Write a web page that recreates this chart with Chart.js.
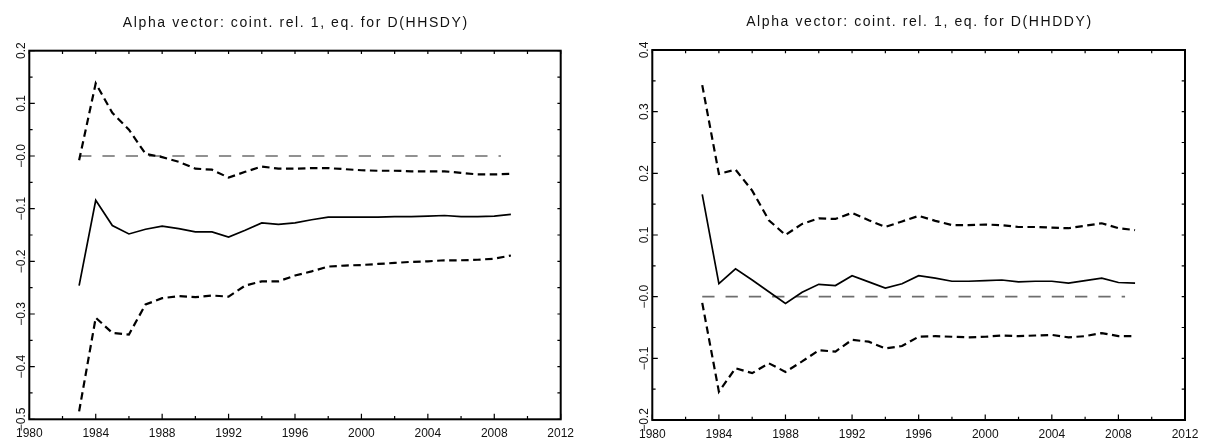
<!DOCTYPE html>
<html><head><meta charset="utf-8">
<script src="https://cdn.jsdelivr.net/npm/chart.js@4.4.1/dist/chart.umd.min.js"></script>
<style>
html,body{margin:0;padding:0;background:#fff;width:1210px;height:441px;overflow:hidden}
canvas{position:absolute;top:0}
#c1{left:0}
#c2{left:605px}
</style></head><body>
<canvas id="c1" width="605" height="441"></canvas>
<canvas id="c2" width="605" height="441"></canvas>
<script>
// ---- data ----
const years = [1983,1984,1985,1986,1987,1988,1989,1990,1991,1992,1993,1994,1995,1996,1997,1998,1999,2000,2001,2002,2003,2004,2005,2006,2007,2008,2009];

const leftTitle = "Alpha vector: coint. rel. 1, eq. for D(HHSDY)";
const leftMid   = [-0.246,-0.084,-0.132,-0.148,-0.139,-0.133,-0.138,-0.144,-0.144,-0.154,-0.141,-0.127,-0.130,-0.127,-0.121,-0.116,-0.116,-0.116,-0.116,-0.115,-0.115,-0.114,-0.113,-0.115,-0.115,-0.114,-0.111];
const leftUpper = [-0.008,0.138,0.082,0.050,0.004,-0.002,-0.011,-0.024,-0.026,-0.041,-0.030,-0.020,-0.024,-0.024,-0.023,-0.023,-0.025,-0.027,-0.028,-0.028,-0.029,-0.029,-0.029,-0.032,-0.035,-0.035,-0.034];
const leftLower = [-0.485,-0.307,-0.336,-0.339,-0.282,-0.270,-0.266,-0.268,-0.265,-0.267,-0.246,-0.238,-0.238,-0.227,-0.219,-0.210,-0.208,-0.207,-0.205,-0.203,-0.201,-0.200,-0.198,-0.198,-0.197,-0.195,-0.189];

const rightTitle = "Alpha vector: coint. rel. 1, eq. for D(HHDDY)";
const rightMid   = [0.166,0.021,0.045,0.027,0.008,-0.011,0.007,0.020,0.018,0.034,0.024,0.014,0.021,0.034,0.030,0.025,0.025,0.026,0.027,0.024,0.025,0.025,0.022,0.026,0.030,0.023,0.022];
const rightUpper = [0.343,0.199,0.206,0.172,0.124,0.100,0.118,0.127,0.126,0.136,0.124,0.113,0.122,0.131,0.123,0.116,0.116,0.117,0.116,0.113,0.113,0.112,0.111,0.115,0.119,0.111,0.108];
const rightLower = [-0.010,-0.154,-0.116,-0.124,-0.108,-0.122,-0.105,-0.087,-0.089,-0.070,-0.073,-0.084,-0.080,-0.065,-0.064,-0.065,-0.066,-0.065,-0.063,-0.064,-0.063,-0.062,-0.066,-0.064,-0.059,-0.064,-0.064];

const zeroLineYears = [1983, 2008.4];
const zeroLineValues = [0, 0];

const xMin = 1980, xMax = 2012;
const xTickYears  = [1980,1982,1984,1986,1988,1990,1992,1994,1996,1998,2000,2002,2004,2006,2008,2010,2012];
const xLabelYears = [1980,1984,1988,1992,1996,2000,2004,2008,2012];
const xLabelText  = ["1980","1984","1988","1992","1996","2000","2004","2008","2012"];

const leftYMin = -0.5, leftYMax = 0.2;
const leftYTicks = [0.2,0.15,0.1,0.05,0,-0.05,-0.1,-0.15,-0.2,-0.25,-0.3,-0.35,-0.4,-0.45,-0.5];
const leftYLabelValues = [0.2,0.1,0,-0.1,-0.2,-0.3,-0.4,-0.5];
const leftYLabelText = ["0.2","0.1","\u22120.0","\u22120.1","\u22120.2","\u22120.3","\u22120.4","\u22120.5"];

const rightYMin = -0.2, rightYMax = 0.4;
const rightYTicks = [0.4,0.35,0.3,0.25,0.2,0.15,0.1,0.05,0,-0.05,-0.1,-0.15,-0.2];
const rightYLabelValues = [0.4,0.3,0.2,0.1,0,-0.1,-0.2];
const rightYLabelText = ["0.4","0.3","0.2","0.1","\u22120.0","\u22120.1","\u22120.2"];

// ---- helpers ----
const pts = (xs, ys) => xs.map((x, i) => ({x: x, y: ys[i]}));

const framePlugin = {
  id: 'frame',
  afterDraw(chart, args, o) {
    const ctx = chart.ctx, a = chart.chartArea;
    const xs = chart.scales.x, ys = chart.scales.y;
    ctx.save();
    // inward tick marks
    ctx.strokeStyle = '#000';
    ctx.lineWidth = 1.2;
    ctx.beginPath();
    xTickYears.forEach(v => {
      const px = xs.getPixelForValue(v);
      const major = xLabelYears.includes(v);
      ctx.moveTo(px, a.bottom); ctx.lineTo(px, a.bottom - (major ? 5.5 : 3.3));
      ctx.moveTo(px, a.top); ctx.lineTo(px, a.top + 3.3);
    });
    o.yTicks.forEach(v => {
      const py = ys.getPixelForValue(v);
      const major = o.yLabelValues.some(l => Math.abs(l - v) < 1e-9);
      ctx.moveTo(a.left, py); ctx.lineTo(a.left + (major ? 5.5 : 3.3), py);
      ctx.moveTo(a.right, py); ctx.lineTo(a.right - 3.3, py);
    });
    ctx.stroke();
    // frame
    ctx.lineWidth = 2;
    ctx.strokeRect(a.left, a.top, a.right - a.left, a.bottom - a.top);
    // x labels
    ctx.fillStyle = '#111';
    ctx.font = '12px "Liberation Sans", Arial, sans-serif';
    ctx.textAlign = 'center';
    ctx.textBaseline = 'alphabetic';
    xLabelYears.forEach((v, i) => {
      ctx.fillText(xLabelText[i], xs.getPixelForValue(v), a.bottom + 17.5);
    });
    // y labels (rotated)
    o.yLabelValues.forEach((v, i) => {
      const py = ys.getPixelForValue(v);
      ctx.save();
      ctx.translate(a.left - 4.8, py);
      ctx.rotate(-Math.PI / 2);
      ctx.textAlign = 'center';
      ctx.textBaseline = 'alphabetic';
      ctx.fillText(o.yLabelText[i], 0, 0);
      ctx.restore();
    });
    // title
    ctx.font = '14px "Liberation Sans", Arial, sans-serif';
    try { ctx.letterSpacing = '1.6px'; } catch (e) {}
    ctx.textAlign = 'center';
    ctx.fillText(o.title, (a.left + a.right) / 2 + 0.8, a.top - 24);
    ctx.restore();
  }
};

function makeChart(id, pad, yMin, yMax, mid, upper, lower, frameOpts) {
  const dashed = {borderColor: '#000', borderWidth: 2.2, borderDash: [7.5, 4.5], pointRadius: 0, tension: 0, fill: false};
  return new Chart(document.getElementById(id), {
    type: 'line',
    data: {
      datasets: [
        {data: pts(years, mid), borderColor: '#000', borderWidth: 1.7, pointRadius: 0, tension: 0, fill: false},
        Object.assign({data: pts(years, upper)}, dashed),
        Object.assign({data: pts(years, lower)}, dashed),
        {data: pts(zeroLineYears, zeroLineValues), borderColor: '#6e6e6e', borderWidth: 1.6, borderDash: [12.3, 11], pointRadius: 0, tension: 0, fill: false}
      ]
    },
    options: {
      responsive: false,
      animation: false,
      devicePixelRatio: 1,
      layout: {padding: pad},
      scales: {
        x: {type: 'linear', min: xMin, max: xMax, display: false},
        y: {type: 'linear', min: yMin, max: yMax, display: false}
      },
      plugins: {legend: {display: false}, tooltip: {enabled: false}, title: {display: false}, frame: frameOpts}
    },
    plugins: [framePlugin]
  });
}

makeChart('c1', {left: 29.3, right: 44.3, top: 50.7, bottom: 21.7}, leftYMin, leftYMax, leftMid, leftUpper, leftLower,
  {title: leftTitle, yTicks: leftYTicks, yLabelValues: leftYLabelValues, yLabelText: leftYLabelText});
makeChart('c2', {left: 47.3, right: 25, top: 50, bottom: 21}, rightYMin, rightYMax, rightMid, rightUpper, rightLower,
  {title: rightTitle, yTicks: rightYTicks, yLabelValues: rightYLabelValues, yLabelText: rightYLabelText});
</script>
</body></html>
